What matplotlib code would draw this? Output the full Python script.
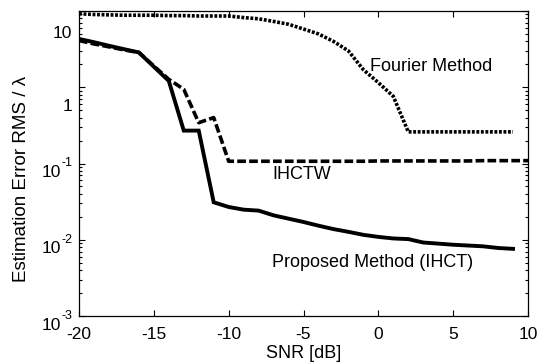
import matplotlib
matplotlib.use("Agg")
import matplotlib.pyplot as plt
import matplotlib.transforms as mtransforms
import numpy as np

plt.rcParams['font.family'] = ['Liberation Sans', 'DejaVu Sans']

snr = [-20, -19, -18, -17, -16, -15, -14, -13, -12, -11, -10, -9, -8, -7, -6,
       -5, -4, -3, -2, -1, 0, 1, 2, 3, 4, 5, 6, 7, 8, 9]
fourier = [9.2, 9.0, 8.9, 8.8, 8.8, 8.8, 8.7, 8.7, 8.6, 8.6, 8.6, 8.2, 7.9, 7.3, 6.7,
           5.8, 5.0, 4.0, 3.0, 1.7, 1.15, 0.76, 0.26, 0.26, 0.26, 0.26, 0.26, 0.26, 0.26, 0.26]
proposed = [4.3, 3.9, 3.5, 3.16, 2.86, 1.86, 1.21, 0.27, 0.27, 0.031, 0.0269, 0.0248, 0.0241,
            0.0209, 0.0189, 0.0171, 0.0153, 0.0138, 0.0127, 0.0116, 0.0109, 0.0104, 0.0102,
            0.0092, 0.0089, 0.0086, 0.0084, 0.0082, 0.0078, 0.0076]
snr_ihctw = [-20, -19, -18, -17, -16, -15, -14, -13, -12, -11, -10, -9, -8, -7, -6, -5,
             -4, -3, -2, -1, 0, 1, 2, 3, 4, 5, 6, 7, 8, 9, 10]
ihctw = [4.1, 3.7, 3.39, 3.09, 2.86, 1.9, 1.27, 0.94, 0.343, 0.40, 0.107, 0.107, 0.107,
         0.107, 0.107, 0.107, 0.107, 0.107, 0.107, 0.107, 0.108, 0.108, 0.108, 0.108,
         0.108, 0.108, 0.108, 0.109, 0.109, 0.109, 0.109]

xticks = [-20, -15, -10, -5, 0, 5, 10]
yticks = [1e-3, 1e-2, 1e-1, 1, 10]
ytick_plain = {1: '1', 10: '10'}
ytick_exp = {1e-3: '-3', 1e-2: '-2', 1e-1: '-1'}

W, H = 542, 362
fig = plt.figure(figsize=(W/100, H/100), dpi=100)
ax = fig.add_axes([79/W, 1-316/H, (528-79)/W, (316-11)/H])

ax.plot(snr, fourier, color='black', lw=2.6, linestyle=(0, (0.8, 0.45)), solid_capstyle='butt')
ax.plot(snr_ihctw, ihctw, color='black', lw=2.6, linestyle=(0, (2.4, 0.9)))
ax.plot(snr, proposed, color='black', lw=2.8, solid_joinstyle='miter')

ax.set_yscale('log')
ax.set_xlim(-20, 10)
ax.set_ylim(1e-3, 10)
ax.set_xticks(xticks)
ax.set_xticklabels([str(t) for t in xticks])
ax.set_yticks(yticks)
ax.set_yticklabels([''] * len(yticks))
ax.tick_params(axis='both', which='both', direction='in', top=True, right=True,
               labelsize=12.5, width=0.8)
ax.tick_params(axis='both', which='major', length=4)
ax.tick_params(axis='y', which='minor', length=2)
ax.tick_params(axis='x', which='major', pad=8)
for sp in ax.spines.values():
    sp.set_linewidth(0.9)

# y tick labels drawn as in the reference rendering
ytr = ax.get_yaxis_transform()
def px(dx, dy):
    return ytr + mtransforms.ScaledTranslation(dx/100, -dy/100, fig.dpi_scale_trans)

for v, s in ytick_plain.items():
    off = 23 if s == '10' else 19
    ax.text(0, v, s, transform=px(-7, off), ha='right', va='center', fontsize=12.5,
            clip_on=False)
for v, s in ytick_exp.items():
    ax.text(0, v, '10', transform=px(-18, 9), ha='right', va='center', fontsize=12.5,
            clip_on=False)
    ax.text(0, v, s, transform=px(-17, 0), ha='left', va='center', fontsize=9,
            clip_on=False)

ax.set_xlabel('SNR [dB]', fontsize=13, labelpad=2)
ax.set_ylabel('Estimation Error RMS / λ', fontsize=13.5)
ax.yaxis.set_label_coords((30-79)/(528-79), 0.5 - 15/305)

ax.text(-0.56, 1.89, 'Fourier Method', fontsize=13, va='center', ha='left')
ax.text(-7.1, 0.0716, 'IHCTW', fontsize=13, va='center', ha='left')
ax.text(-7.1, 0.0050, 'Proposed Method (IHCT)', fontsize=13, va='center', ha='left')

fig.savefig('out.png', dpi=100)
